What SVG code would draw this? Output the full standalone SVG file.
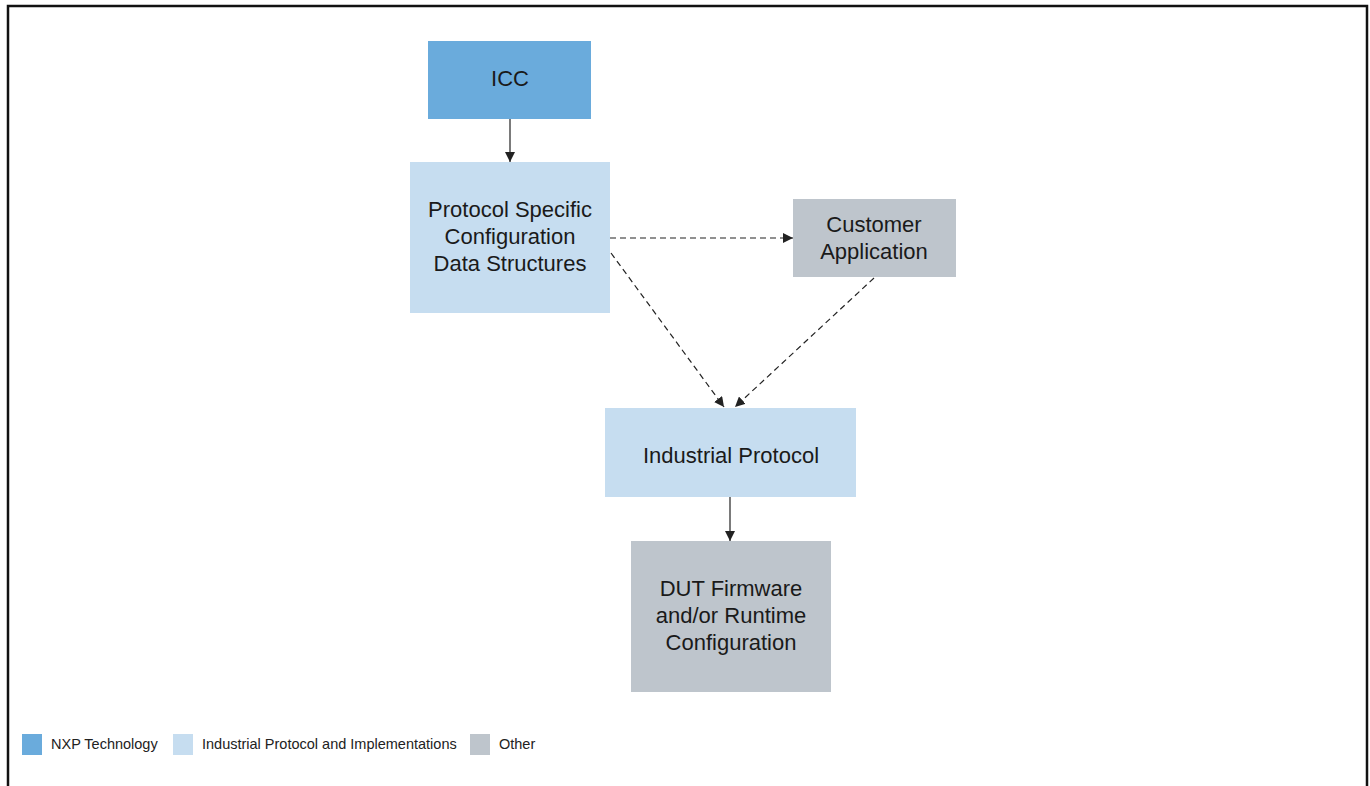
<svg xmlns="http://www.w3.org/2000/svg" width="1370" height="786" viewBox="0 0 1370 786">
<defs>
<style>
.t{font-family:"Liberation Sans",Arial,sans-serif;font-size:22px;fill:#1a1a1a;text-anchor:middle}
.l{font-family:"Liberation Sans",Arial,sans-serif;font-size:14.5px;fill:#222}
.c{stroke:#222;stroke-width:1.2;fill:none}
.d{stroke-dasharray:6,4}
.nxp{fill:#6aabdc}
.ind{fill:#c6ddf0}
.oth{fill:#bec5cc}
</style>
<marker id="ah" viewBox="0 0 10 10" refX="10" refY="5" markerWidth="10" markerHeight="10" markerUnits="userSpaceOnUse" orient="auto">
<path d="M0,0 L10,5 L0,10 z" fill="#222"/>
</marker>
</defs>
<rect width="1370" height="786" fill="#fff"/>
<path d="M8,786 V6 H1367 V786" fill="none" stroke="#111" stroke-width="2.5"/>
<g id="connectors">
<line class="c" x1="510" y1="119" x2="510" y2="162" marker-end="url(#ah)"/>
<line class="c d" x1="610" y1="238" x2="793" y2="238" marker-end="url(#ah)"/>
<line class="c d" x1="611" y1="253" x2="724" y2="407" marker-end="url(#ah)"/>
<line class="c d" x1="874" y1="278" x2="735" y2="407" marker-end="url(#ah)"/>
<line class="c" x1="730" y1="497" x2="730" y2="541" marker-end="url(#ah)"/>
</g>
<g id="icc">
<rect class="nxp" x="428" y="41" width="163" height="78"/>
<text class="t" x="510" y="86">ICC</text>
</g>
<g id="pscds">
<rect class="ind" x="410" y="162" width="200" height="151"/>
<text class="t" x="510" y="217">Protocol Specific</text>
<text class="t" x="510" y="244">Configuration</text>
<text class="t" x="510" y="271">Data Structures</text>
</g>
<g id="customer">
<rect class="oth" x="793" y="199" width="163" height="78"/>
<text class="t" x="874" y="232">Customer</text>
<text class="t" x="874" y="259">Application</text>
</g>
<g id="industrial">
<rect class="ind" x="605" y="408" width="251" height="89"/>
<text class="t" x="731" y="463">Industrial Protocol</text>
</g>
<g id="dut">
<rect class="oth" x="631" y="541" width="200" height="151"/>
<text class="t" x="731" y="596">DUT Firmware</text>
<text class="t" x="731" y="623">and/or Runtime</text>
<text class="t" x="731" y="650">Configuration</text>
</g>
<g id="legend">
<rect class="nxp" x="22" y="734" width="20" height="21"/>
<text class="l" x="51" y="749">NXP Technology</text>
<rect class="ind" x="173" y="734" width="20" height="21"/>
<text class="l" x="202" y="749">Industrial Protocol and Implementations</text>
<rect class="oth" x="470" y="734" width="20" height="21"/>
<text class="l" x="499" y="749">Other</text>
</g>
</svg>
